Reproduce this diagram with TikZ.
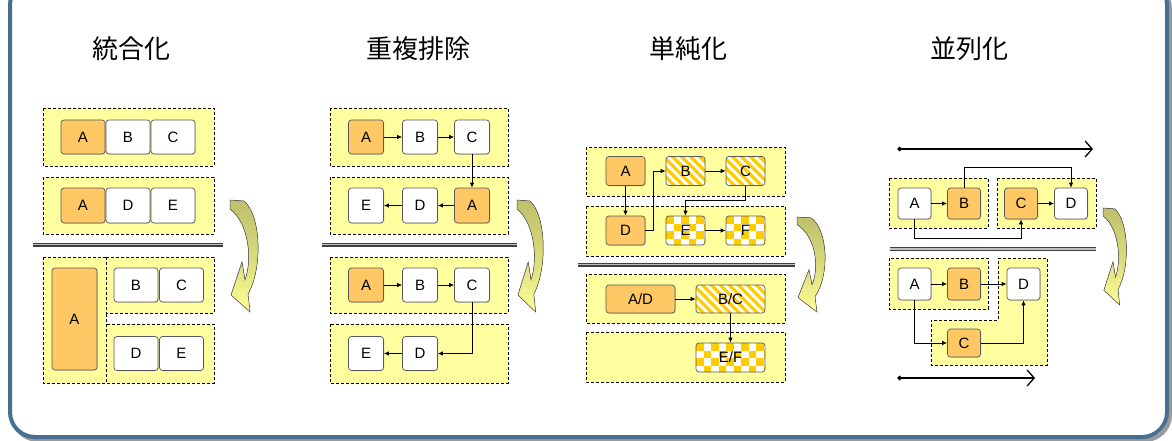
\documentclass[tikz,border=0pt]{standalone}
\usepackage{fontspec}
\setmainfont{Liberation Sans}
\newfontfamily\cjk{Noto Sans CJK JP}
\usetikzlibrary{arrows.meta,shadows,calc}
\definecolor{frameblue}{RGB}{70,112,145}
\definecolor{boxyellow}{RGB}{255,255,160}
\definecolor{nodeorange}{RGB}{255,200,100}
\definecolor{patyellow}{RGB}{255,204,0}
\definecolor{arrowolive}{RGB}{192,192,108}
\definecolor{arrowyellow}{RGB}{255,255,150}
\tikzset{
  grp/.style={draw=black, fill=boxyellow, line width=0.9pt, dash pattern=on 3pt off 2pt},
  nd/.style={draw=black!65, rounded corners=3pt, line width=0.7pt, inner sep=0pt,
     font=\fontsize{15}{15}\selectfont},
  shd/.style={drop shadow={shadow xshift=0.8pt, shadow yshift=-0.8pt, opacity=0.3}},
  wn/.style={nd, shd, fill=white},
  on/.style={nd, shd, fill=nodeorange},
  sz/.style 2 args={minimum width=#1pt, minimum height=#2pt},
  stripes/.style={nd, fill=white, path picture={
     \coordinate (ppnw) at (path picture bounding box.north west);
     \foreach \s in {-50,-41,...,80} {
       \fill[patyellow, sharp corners] ([xshift=\s pt]ppnw) -- ++(4.5pt,0pt) -- ++(40pt,-40pt) -- ++(-4.5pt,0pt) -- cycle;
     }}},
  checker/.style={nd, fill=white, path picture={
     \coordinate (ppnw) at (path picture bounding box.north west);
     \foreach \i in {0,...,10} { \foreach \j in {0,...,5} {
       \ifodd\numexpr\i+\j\relax\else
         \fill[patyellow, sharp corners] ([xshift=\i*7.5pt, yshift=-\j*7.5pt]ppnw) rectangle ++(7.5pt,-7.5pt);
       \fi }}}},
  arr/.style={-{Latex[length=5pt,width=4.5pt]}, line width=0.8pt, draw=black},
  dbl/.style={draw=black!75, double=black!25, double distance=1.4pt, line width=1.3pt},
  title/.style={font=\cjk\fontsize{26}{30}\selectfont},
  longarr/.style={line width=1.3pt, {Diamond[length=5pt,width=5pt]}-{Straight Barb[length=7pt,width=16pt,line width=1.3pt]}}
}
\newcommand\bendarrow[4]{%
  \begin{scope}[shift={(#1,#2)}, xscale=#3/30, yscale=#4/112]
    \filldraw[draw=black!70, line width=0.5pt, top color=arrowolive, bottom color=arrowyellow,
              middle color=arrowolive!60!arrowyellow]
      (0,0) -- (14,1) .. controls (31,15) and (33,68) .. (18,94) -- (20,112) -- (1,95)
      -- (12,62) -- (15,80) .. controls (23,58) and (18,22) .. (0,9) -- cycle;
  \end{scope}}
\begin{document}
\begin{tikzpicture}[x=1pt,y=-1pt]
\useasboundingbox (0,0) rectangle (1172,441);
% frame
\draw[black!40, line width=4pt, rounded corners=25pt] (13,-17) rectangle (1170,440);
\draw[frameblue, fill=white, line width=4pt, rounded corners=25pt] (10,-20) rectangle (1167,437);

% titles
\node[title] (t1) at (131,49) {統合化};
\node[title] (t2) at (418,49) {重複排除};
\node[title] (t3) at (688,49) {単純化};
\node[title] (t4) at (969,49) {並列化};

% ---------- panel 1 ----------
\draw[grp] (43,108) rectangle (214,166);
\node[on, sz={44}{34}] (p1a1) at (83,137) {A};
\node[wn, sz={44}{34}] (p1b1) at (128,137) {B};
\node[wn, sz={44}{34}] (p1c1) at (173,137) {C};
\draw[grp] (43,177) rectangle (214,234);
\node[on, sz={44}{35}] (p1a2) at (83,205.5) {A};
\node[wn, sz={44}{35}] (p1d2) at (128,205.5) {D};
\node[wn, sz={44}{35}] (p1e2) at (173,205.5) {E};
\draw[dbl] (33,244.5) -- (223,244.5);
\draw[grp] (43,257) rectangle (106,383);
\draw[grp] (106,257) rectangle (214,313);
\draw[grp] (106,324) rectangle (214,383);
\node[on, sz={45}{102}] (p1a3) at (74.5,319) {A};
\node[wn, sz={44}{34}] (p1b3) at (136,285) {B};
\node[wn, sz={44}{34}] (p1c3) at (181.5,285) {C};
\node[wn, sz={44}{34}] (p1d4) at (136,353.5) {D};
\node[wn, sz={44}{34}] (p1e4) at (181.5,353.5) {E};
\bendarrow{230}{200}{30}{112}

% ---------- panel 2 ----------
\draw[grp] (330,108) rectangle (508,166);
\node[on, sz={35}{34}] (p2a1) at (366,137) {A};
\node[wn, sz={35}{34}] (p2b1) at (420,137) {B};
\node[wn, sz={35}{34}] (p2c1) at (472,137) {C};
\draw[grp] (330,177) rectangle (508,234);
\node[wn, sz={35}{35}] (p2e2) at (366,205.5) {E};
\node[wn, sz={35}{35}] (p2d2) at (420,205.5) {D};
\node[on, sz={35}{35}] (p2a2) at (472,205.5) {A};
\draw[arr] (p2a1) -- (p2b1);
\draw[arr] (p2b1) -- (p2c1);
\draw[arr] (p2c1) -- (p2a2);
\draw[arr] (p2a2) -- (p2d2);
\draw[arr] (p2d2) -- (p2e2);
\draw[dbl] (322,244.5) -- (517,244.5);
\draw[grp] (330,257) rectangle (508,313);
\node[on, sz={35}{34}] (p2a3) at (366,285) {A};
\node[wn, sz={35}{34}] (p2b3) at (420,285) {B};
\node[wn, sz={35}{34}] (p2c3) at (472,285) {C};
\draw[grp] (330,324) rectangle (508,383);
\node[wn, sz={35}{34}] (p2e4) at (366,353.5) {E};
\node[wn, sz={35}{34}] (p2d4) at (420,353.5) {D};
\draw[arr] (p2a3) -- (p2b3);
\draw[arr] (p2b3) -- (p2c3);
\draw[arr] (p2c3.south) |- (p2d4.east);
\draw[arr] (p2d4) -- (p2e4);
\bendarrow{517}{200}{28}{112}

% ---------- panel 3 ----------
\draw[grp] (586,147) rectangle (785,196);
\node[on, sz={39}{29}] (p3a) at (625.5,171) {A};
\node[stripes, sz={39}{29}] (p3b) at (685.5,171) {B};
\node[stripes, sz={39}{29}] (p3c) at (745.5,171) {C};
\draw[grp] (586,206) rectangle (785,256);
\node[on, sz={39}{29}] (p3d) at (625.5,230.5) {D};
\node[checker, sz={39}{29}] (p3e) at (685.5,230.5) {E};
\node[checker, sz={39}{29}] (p3f) at (745.5,230.5) {F};
\draw[arr] (p3a) -- (p3d);
\draw[arr] (p3d.east) -- ++(8,0) |- (p3b.west);
\draw[arr] (p3b) -- (p3c);
\draw[arr] (p3c.south) -- ++(0,14.5) -| (p3e.north);
\draw[arr] (p3e) -- (p3f);
\draw[dbl] (578,264.5) -- (795,264.5);
\draw[grp] (586,274) rectangle (785,323);
\node[on, sz={69}{28}] (p3ad) at (640.5,299) {A/D};
\node[stripes, sz={69}{28}] (p3bc) at (730.5,299) {B/C};
\draw[grp] (586,332) rectangle (785,382);
\node[checker, sz={69}{29}] (p3ef) at (730.5,357.5) {E/F};
\draw[arr] (p3ad) -- (p3bc);
\draw[arr] (p3bc) -- (p3ef);
\bendarrow{797}{217}{30}{95}

% ---------- panel 4 ----------
\coordinate (ls1) at (897,149);
\coordinate (le1) at (1093,149);
\draw[longarr] (ls1) -- (le1);
\draw[grp] (889,178) rectangle (988,228);
\draw[grp] (997,178) rectangle (1096,228);
\node[wn, sz={33}{31}] (p4a1) at (914.5,203.5) {A};
\node[on, sz={33}{31}] (p4b1) at (964,203.5) {B};
\node[on, sz={33}{31}] (p4c1) at (1021,203.5) {C};
\node[wn, sz={33}{31}] (p4d1) at (1071,203.5) {D};
\draw[arr] (p4a1) -- (p4b1);
\draw[arr] (p4c1) -- (p4d1);
\draw[arr] (p4b1.north) -- ++(0,-20) -| (p4d1.north);
\draw[arr] (p4a1.south) -- ++(0,19) -| (p4c1.south);
\draw[dbl] (890,249) -- (1096,249);
\draw[grp] (889,258) rectangle (988,309);
\draw[grp] (998,258) -- (1047,258) -- (1047,365) -- (931,365) -- (931,320) -- (998,320) -- cycle;
\node[wn, sz={33}{32}] (p4a2) at (914.5,284) {A};
\node[on, sz={33}{32}] (p4b2) at (964,284) {B};
\node[wn, sz={33}{32}] (p4d2) at (1023.5,284) {D};
\node[on, sz={33}{28}] (p4c2) at (964,343) {C};
\draw[arr] (p4a2) -- (p4b2);
\draw[arr] (p4b2) -- (p4d2);
\draw[arr] (p4a2.south) |- (p4c2.west);
\draw[arr] (p4c2.east) -| (p4d2.south);
\coordinate (ls2) at (897,378);
\coordinate (le2) at (1035,378);
\draw[longarr] (ls2) -- (le2);
\bendarrow{1103}{208}{25}{97}
\end{tikzpicture}
\end{document}
